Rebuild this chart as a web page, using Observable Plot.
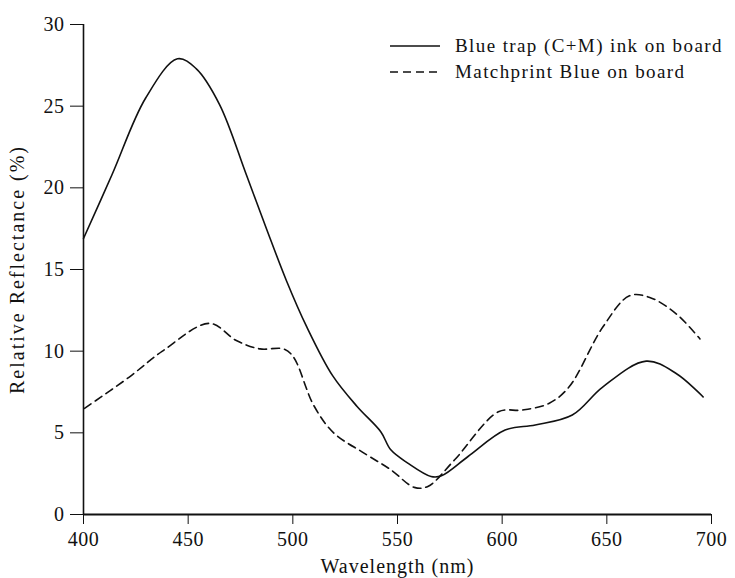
<!DOCTYPE html>
<html><head><meta charset="utf-8">
<script src="https://cdn.jsdelivr.net/npm/d3@7"></script>
<script src="https://cdn.jsdelivr.net/npm/@observablehq/plot@0.6"></script>
<style>
body{margin:0;background:#fff;}
#wrap{position:relative;width:735px;height:578px;}
#legend{position:absolute;left:390px;top:33px;font-family:"Liberation Serif",serif;font-size:19px;letter-spacing:1.4px;color:#111;}
.row{display:flex;align-items:center;height:26px;white-space:nowrap;}
.row svg{margin-right:15px;flex:none;}
g[aria-label="y-axis label"] text{letter-spacing:2px;}
g[aria-label="x-axis label"] text{letter-spacing:1px;}
</style></head><body><div id="wrap"><div id="legend"></div></div>
<script>
const seriesNames = ["Blue trap (C+M) ink on board", "Matchprint Blue on board"];
const trapWavelength = [400, 413.6, 429.7, 444.9, 453.8, 465, 477.8, 487.4, 497, 506.6, 519, 530.8, 542, 546.8, 554.9, 566, 571, 583.7, 601.4, 615.8, 633.5, 648, 668.8, 683.3, 696];
const trapReflectance = [16.9, 20.8, 25.5, 27.9, 27.3, 25.1, 20.8, 17.5, 14.3, 11.5, 8.5, 6.6, 5.07, 3.96, 3.15, 2.33, 2.37, 3.55, 5.17, 5.48, 6.09, 7.8, 9.39, 8.62, 7.2];
const matchWavelength = [400.5, 421.7, 437.7, 460.2, 473, 484.3, 495.5, 500.3, 509.9, 519.5, 534, 546.8, 558, 564.5, 577.3, 598.2, 609.4, 622.3, 631.9, 648, 660.8, 670.5, 683.3, 694.5];
const matchReflectance = [6.5, 8.4, 10.0, 11.7, 10.65, 10.14, 10.14, 9.64, 6.7, 5.0, 3.76, 2.74, 1.66, 1.72, 3.35, 6.29, 6.39, 6.8, 7.8, 11.46, 13.39, 13.29, 12.27, 10.75];
const xTicks = [400, 450, 500, 550, 600, 650, 700];
const yTicks = [0, 5, 10, 15, 20, 25, 30];

const trapData = trapWavelength.map((w, i) => ({w, v: trapReflectance[i]}));
const matchData = matchWavelength.map((w, i) => ({w, v: matchReflectance[i]}));
const ink = "#111";
const dash = "8,5";

const chart = Plot.plot({
  width: 735, height: 578,
  marginLeft: 83, marginRight: 24, marginTop: 24, marginBottom: 64,
  x: {domain: [400, 700]},
  y: {domain: [0, 30]},
  style: {fontFamily: '"Liberation Serif", serif', fontSize: "20px", color: ink, background: "white", letterSpacing: "0.5px"},
  marks: [
    Plot.axisX({ticks: xTicks, tickSize: 10, tickPadding: 7, fontSize: 20, label: "Wavelength (nm)", labelAnchor: "center", labelArrow: "none", labelOffset: 58}),
    Plot.axisY({ticks: yTicks, tickSize: 13, tickPadding: 6, fontSize: 20, label: "Relative Reflectance (%)", labelAnchor: "center", labelArrow: "none", labelOffset: 74}),
    Plot.ruleX([400], {stroke: ink, strokeWidth: 1.6}),
    Plot.ruleY([0], {stroke: ink, strokeWidth: 1.8}),
    Plot.line(trapData, {x: "w", y: "v", curve: "catmull-rom", stroke: ink, strokeWidth: 1.6}),
    Plot.line(matchData, {x: "w", y: "v", curve: "catmull-rom", stroke: ink, strokeWidth: 1.6, strokeDasharray: dash})
  ]
});
document.getElementById("wrap").prepend(chart);

const legend = document.getElementById("legend");
seriesNames.forEach((name, i) => {
  const row = document.createElement("div");
  row.className = "row";
  row.innerHTML = `<svg width="50" height="6"><line x1="0" y1="3" x2="50" y2="3" stroke="${ink}" stroke-width="1.6" ${i ? `stroke-dasharray="${dash}"` : ""}/></svg><span>${name}</span>`;
  legend.appendChild(row);
});
</script></body></html>
